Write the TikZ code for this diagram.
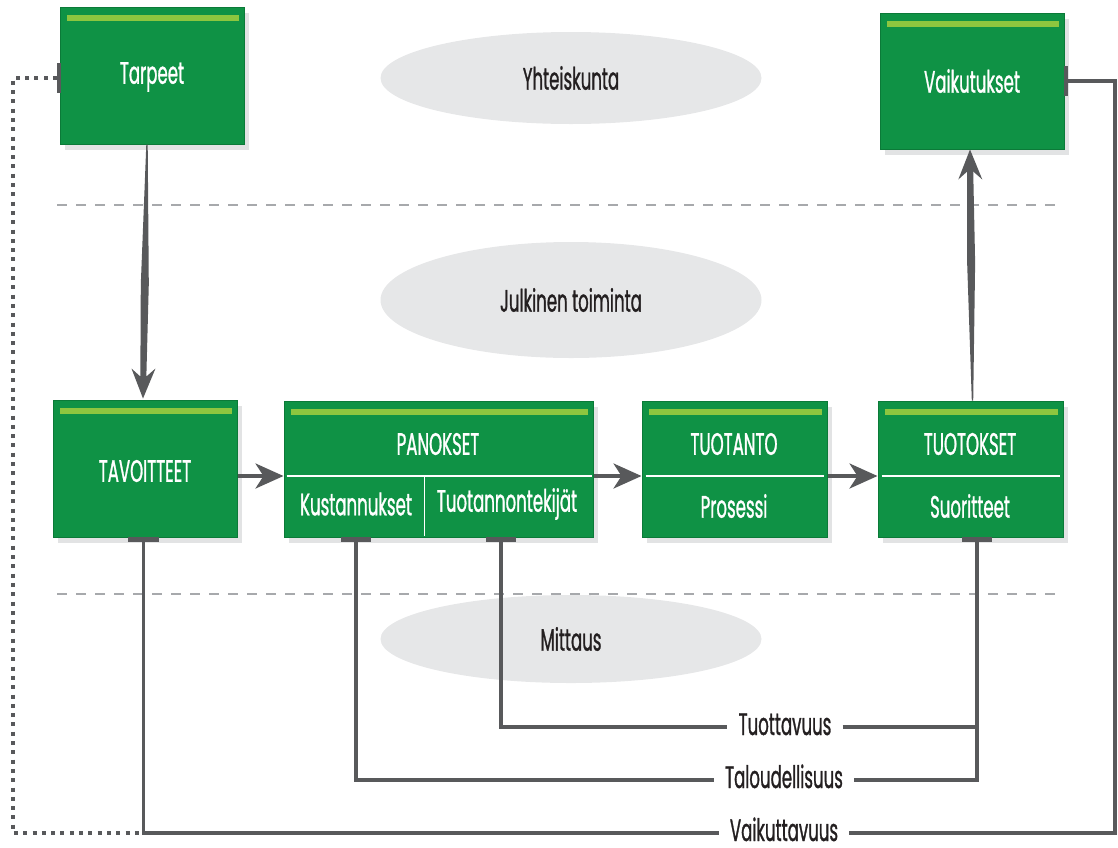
\documentclass[tikz,border=0pt]{standalone}
\usepackage{fontspec}
\setmainfont{Poppins}[FakeStretch=0.535, FakeBold=0.9]
\usetikzlibrary{arrows.meta,calc,shadows,shapes.geometric}

\definecolor{boxgreen}{HTML}{0F9245}
\definecolor{boxedge}{HTML}{0B7A38}
\definecolor{bargreen}{HTML}{8DC63F}
\definecolor{shade}{HTML}{E2E3E4}
\definecolor{ovalgray}{HTML}{E6E7E8}
\definecolor{linegray}{HTML}{58595B}
\definecolor{dashgray}{HTML}{A7A9AC}
\definecolor{ink}{HTML}{231F20}

% tapered vertical arrow from #1 to #2
\newcommand{\taperedarrow}[2]{%
  \fill[linegray]
    ($(#1)+(-0.7,0)$) -- ($(#1)!0.55!(#2)+(-4,0)$)
    -- ($(#2)!22pt!(#1)+(-3,0)$) -- ($(#2)!30pt!(#1)+(-12,0)$)
    -- (#2)
    -- ($(#2)!30pt!(#1)+(12,0)$) -- ($(#2)!22pt!(#1)+(3,0)$)
    -- ($(#1)!0.55!(#2)+(4,0)$) -- ($(#1)+(0.7,0)$) -- cycle;}

\begin{document}
\begin{tikzpicture}[x=1pt,y=-1pt,
  font=\fontsize{31}{34}\selectfont,
  greenbox/.style={draw=boxedge, line width=1pt, fill=boxgreen, inner sep=0pt,
    drop shadow={shadow xshift=5pt, shadow yshift=-6pt, fill=shade, opacity=1}},
  oval/.style={ellipse, fill=ovalgray, inner sep=0pt},
  boxtext/.style={text=white, inner sep=0pt},
  labeltext/.style={text=ink, inner sep=0pt, inner xsep=11pt,
    text height=16pt, text depth=0pt},
  ovaltext/.style={text=ink, inner sep=0pt},
  divider/.style={draw=white, line width=1.6pt},
  flowarrow/.style={draw=linegray, line width=3.5pt,
    -{Stealth[length=28pt,width=25pt,inset=8pt]}},
  link/.style={draw=linegray, line width=3.6pt, line join=miter},
  dotlink/.style={draw=linegray, line width=3.8pt, dash pattern=on 4pt off 5.3pt},
  sepline/.style={draw=dashgray, line width=1.6pt, dash pattern=on 10pt off 9pt},
  tab/.style={fill=linegray, inner sep=0pt, draw=none},
]
\useasboundingbox (0,0) rectangle (1118,847);

% background ovals
\node[oval, minimum width=381pt, minimum height=92pt] (o1) at (571,78) {};
\node[oval, minimum width=381pt, minimum height=116pt] (o2) at (571,300) {};
\node[oval, minimum width=381pt, minimum height=88pt] (o3) at (571,639) {};
\node[ovaltext] (t1) at (o1) {Yhteiskunta};
\node[ovaltext] (t2) at (o2) {Julkinen toiminta};
\node[ovaltext] (t3) at (o3) {Mittaus};

% level separators
\coordinate (s1a) at (57,205);  \coordinate (s1b) at (1062,205);
\coordinate (s2a) at (57,594);  \coordinate (s2b) at (1062,594);
\draw[sepline] (s1a) -- (s1b);
\draw[sepline] (s2a) -- (s2b);

% boxes
\node[greenbox, minimum width=184pt, minimum height=137pt] (tarp) at (152,75.5) {};
\node[greenbox, minimum width=184pt, minimum height=136pt] (vaik) at (972,81) {};
\node[greenbox, minimum width=184pt, minimum height=137pt] (tav) at (145,468.5) {};
\node[greenbox, minimum width=309pt, minimum height=136pt] (pan) at (438.5,469) {};
\node[greenbox, minimum width=185pt, minimum height=136pt] (tuot) at (734.5,469) {};
\node[greenbox, minimum width=185pt, minimum height=136pt] (tok) at (970.5,469) {};

% light top bars
\foreach \b in {tarp,vaik,tav,pan,tuot,tok}
  \fill[bargreen] ($(\b.north west)+(7,8)$) rectangle ($(\b.north east)+(-6,14)$);

% dividers inside boxes
\draw[divider] ($(pan.west)+(3,7)$) -- ($(pan.east)+(-2,7)$);
\draw[divider] ($(pan.south west)+(141,-61)$) -- ($(pan.south west)+(141,-2)$);
\draw[divider] ($(tuot.west)+(4,7)$) -- ($(tuot.east)+(-4,7)$);
\draw[divider] ($(tok.west)+(4,7)$) -- ($(tok.east)+(-4,7)$);

% box texts
\node[boxtext] (lt1) at (152,77) {Tarpeet};
\node[boxtext] (lt2) at (972,81) {Vaikutukset};
\node[boxtext] (lt3) at (145,471) {TAVOITTEET};
\node[boxtext] (lt4) at (438,444) {PANOKSET};
\node[boxtext] (lt5) at (356,504) {Kustannukset};
\node[boxtext] (lt6) at (507,504) {Tuotannontekijät};
\node[boxtext] (lt7) at (734,444) {TUOTANTO};
\node[boxtext] (lt8) at (734,506) {Prosessi};
\node[boxtext] (lt9) at (970,444) {TUOTOKSET};
\node[boxtext] (lt10) at (970,506) {Suoritteet};

% flow arrows
\draw[flowarrow] ($(tav.east)+(0,7.5)$) -- ($(pan.west)+(0,7)$);
\draw[flowarrow] ($(pan.east)+(0,7)$) -- ($(tuot.west)+(0,7)$);
\draw[flowarrow] ($(tuot.east)+(0,7)$) -- ($(tok.west)+(0,7)$);

\coordinate (a1s) at ($(tarp.south)+(-5,0)$);
\coordinate (a1e) at ($(tav.north)+(-2,-1)$);
\coordinate (a2s) at ($(tok.north)+(2,0)$);
\coordinate (a2e) at ($(vaik.south)+(-2,0)$);
\taperedarrow{a1s}{a1e}
\taperedarrow{a2s}{a2e}

% measurement tabs
\node[tab, minimum width=4pt, minimum height=30pt] (tarptab) at (59,78) {};
\node[tab, minimum width=4pt, minimum height=30pt] (vaiktab) at (1066,81) {};
\node[tab, minimum width=31pt, minimum height=5pt] (tavtab) at (143.5,539.5) {};
\node[tab, minimum width=30pt, minimum height=5pt] (kusttab) at (356,539.5) {};
\node[tab, minimum width=30pt, minimum height=5pt] (tektab) at (501,539.5) {};
\node[tab, minimum width=30pt, minimum height=5pt] (suotab) at (977,539.5) {};

% measure labels (node centre sits on the connecting line)
\node[labeltext] (tuottav) at (785,727) {Tuottavuus};
\node[labeltext] (talous) at (784,780) {Taloudellisuus};
\node[labeltext] (vaikutt) at (784,833) {Vaikuttavuus};

% measurement links
\draw[link] (tektab.south) |- (tuottav.west);
\draw[link] (tuottav.east) -- (tuottav.east -| suotab.south);
\draw[link] (suotab.south) |- (talous.east);
\draw[link] (kusttab.south) |- (talous.west);
\draw[link] (tavtab.south) |- (vaikutt.west);
\coordinate (rc) at (1115,81);
\draw[link] (vaikutt.east) -| (rc) -- (vaiktab.east);
\coordinate (dl) at (13,833);
\draw[dotlink] (tarptab.west) -| (dl) -- (tavtab.south |- dl);
\end{tikzpicture}
\end{document}
